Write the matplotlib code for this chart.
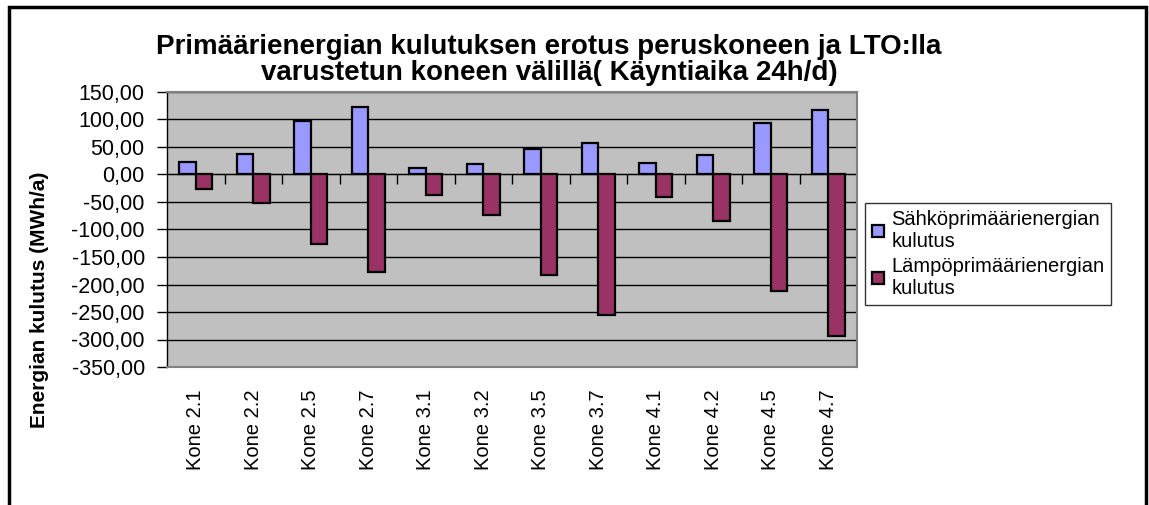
import numpy as np
import matplotlib
matplotlib.use('Agg')
import matplotlib.pyplot as plt
from matplotlib.ticker import FuncFormatter, FixedLocator
from matplotlib.patches import Rectangle

plt.rcParams['font.family'] = ['Liberation Sans', 'DejaVu Sans']

categories = ['Kone 2.1', 'Kone 2.2', 'Kone 2.5', 'Kone 2.7', 'Kone 3.1', 'Kone 3.2',
              'Kone 3.5', 'Kone 3.7', 'Kone 4.1', 'Kone 4.2', 'Kone 4.5', 'Kone 4.7']
sahko = [22, 38, 98, 123, 11, 19, 46, 57, 21, 36, 94, 118]
lampo = [-26, -51, -126, -178, -37, -73, -182, -255, -41, -84, -211, -293]
series_names = ['Sähköprimäärienergian\nkulutus', 'Lämpöprimäärienergian\nkulutus']
colors = ['#9999FF', '#993366']

W, H = 1149, 505
fig = plt.figure(figsize=(W / 100, H / 100), dpi=100)
ax = fig.add_axes([167 / W, 1 - 367 / H, (857 - 167) / W, (367 - 92) / H])
ax.set_facecolor('#C0C0C0')

x = np.arange(len(categories))
bw = 1 / 3.5
ax.bar(x - bw / 2, sahko, bw, color=colors[0], edgecolor='black', linewidth=1.6,
       label=series_names[0], zorder=3)
ax.bar(x + bw / 2, lampo, bw, color=colors[1], edgecolor='black', linewidth=1.6,
       label=series_names[1], zorder=3)

ax.set_xlim(-0.5, len(categories) - 0.5)
ax.set_ylim(-350, 150)
ax.set_yticks(np.arange(-350, 151, 50))
ax.yaxis.set_major_formatter(FuncFormatter(lambda v, p: f'{v:.2f}'.replace('.', ',')))
ax.grid(axis='y', color='black', linewidth=1, zorder=1)
ax.tick_params(axis='y', length=7, width=1, pad=9, labelsize=15.5, direction='out')

ax.set_xticks(x)
ax.set_xticklabels(categories, rotation=90, va='top', ha='center', fontsize=14.5)
ax.tick_params(axis='x', length=0, pad=16)

for s in ['top', 'right', 'bottom']:
    ax.spines[s].set_color('#808080')
    ax.spines[s].set_linewidth(1.5)
ax.spines['left'].set_color('black')
ax.spines['left'].set_linewidth(1)

# category axis drawn at zero with tick marks at category boundaries
zero_frac = (0 - (-350)) / 500
sec = ax.secondary_xaxis(zero_frac)
sec.xaxis.set_major_locator(FixedLocator(np.arange(0.5, len(categories) - 1, 1.0)))
sec.tick_params(axis='x', direction='out', length=7, width=1, labelbottom=False,
                labeltop=False, bottom=True, top=False)
sec.spines['bottom'].set_color('black')
sec.spines['bottom'].set_linewidth(1.2)
sec.xaxis.set_ticks_position('bottom')
sec.set_xticklabels([])

fig.text(549 / W, 1 - 60 / H,
         'Primäärienergian kulutuksen erotus peruskoneen ja LTO:lla\n'
         'varustetun koneen välillä( Käyntiaika 24h/d)',
         ha='center', va='center', fontsize=20, fontweight='bold', linespacing=1.05)

fig.text(40 / W, 1 - 300 / H, 'Energian kulutus (MWh/a)', rotation=90,
         ha='center', va='center', fontsize=15, fontweight='bold')

leg = fig.legend(loc='upper left', bbox_to_anchor=(865 / W, 1 - 203 / H),
                 fontsize=14.5, frameon=True, fancybox=False, shadow=False,
                 handlelength=0.6, handleheight=0.6, handletextpad=0.35,
                 borderpad=0.35, labelspacing=0.3, borderaxespad=0)
leg.get_frame().set_edgecolor('black')
leg.get_frame().set_linewidth(1)

# outer chart border
fig.patches.append(Rectangle((9 / W, -0.05), (1146 - 9) / W, 1.05 - 7 / H,
                             transform=fig.transFigure, fill=False,
                             edgecolor='black', linewidth=2.5))

fig.savefig('out.png', dpi=100)
